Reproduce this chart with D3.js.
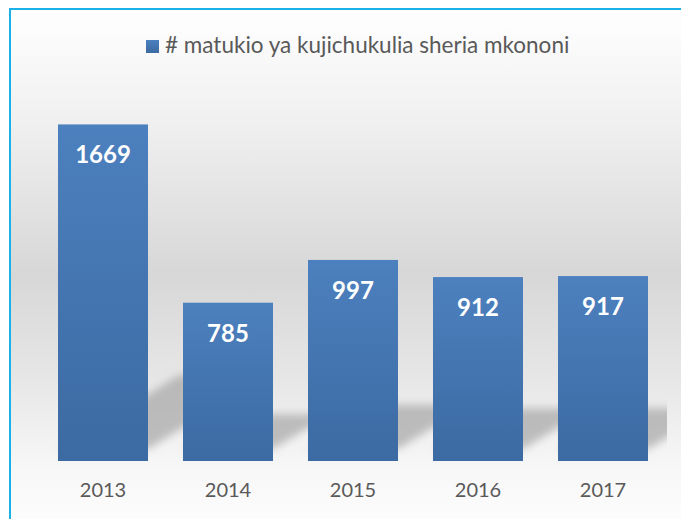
<!DOCTYPE html>
<html>
<head>
<meta charset="utf-8">
<script src="https://cdn.jsdelivr.net/npm/d3@7"></script>
<style>
  body { margin: 0; background: #fff; }
  svg { display: block; }
</style>
</head>
<body>
<script>
const years = ["2013", "2014", "2015", "2016", "2017"];
const counts = [1669, 785, 997, 912, 917];
const seriesName = "# matukio ya kujichukulia sheria mkononi";

const W = 681, H = 519;
const font = "Lato, 'Open Sans', sans-serif";

const svg = d3.select("body").append("svg")
    .attr("width", W)
    .attr("height", H);

const defs = svg.append("defs");

// chart background: white -> grey -> white
const bg = defs.append("linearGradient")
    .attr("id", "bg")
    .attr("gradientUnits", "userSpaceOnUse")
    .attr("x1", 0).attr("y1", 9).attr("x2", 0).attr("y2", 519);
[[0, "#ffffff"], [0.22, "#f0f0f0"], [0.52, "#d7d7d7"], [0.72, "#e6e6e6"], [0.9, "#f7f7f7"], [1, "#fcfcfc"]]
  .forEach(([o, c]) => bg.append("stop").attr("offset", o).attr("stop-color", c));

const barGrad = defs.append("linearGradient")
    .attr("id", "bar")
    .attr("x1", 0).attr("y1", 0).attr("x2", 0).attr("y2", 1);
barGrad.append("stop").attr("offset", 0).attr("stop-color", "#4c80be");
barGrad.append("stop").attr("offset", 1).attr("stop-color", "#3c6aa2");

defs.append("filter")
    .attr("id", "blur")
    .attr("x", -0.3).attr("y", -0.3).attr("width", 1.6).attr("height", 1.6)
  .append("feGaussianBlur")
    .attr("stdDeviation", 4);

const x = d3.scaleBand()
    .domain(years)
    .range([40.5, 665.5])
    .paddingInner(0.28)
    .paddingOuter(0.14);

const y = d3.scaleLinear()
    .domain([0, 1800])
    .range([461, 98]);

defs.append("clipPath").attr("id", "plotclip")
  .append("rect")
    .attr("x", 12).attr("y", 90)
    .attr("width", 667 - 12).attr("height", y(0) - 90);

svg.append("rect")
    .attr("x", 10).attr("y", 9)
    .attr("width", 700).attr("height", 540)
    .attr("fill", "url(#bg)")
    .attr("stroke", "#1cb0e8")
    .attr("stroke-width", 2);

const data = years.map((yr, i) => ({year: yr, value: counts[i]}));

// perspective shadows behind the bars
svg.append("g")
    .attr("clip-path", "url(#plotclip)")
  .append("g")
    .attr("filter", "url(#blur)")
  .selectAll("path")
  .data(data)
  .join("path")
    .attr("fill", "#a0a0a0")
    .attr("opacity", 0.65)
    .attr("d", d => {
      const x0 = x(d.year), x1 = x0 + x.bandwidth();
      const h = y(0) - y(d.value);
      const base = y(0) - 12, sh = 0.22 * h, dx = 0.36 * h;
      return `M${x0},${base}L${x1},${base}L${x1 + dx},${base - sh}L${x0 + dx},${base - sh}Z`;
    });

svg.append("g")
  .selectAll("rect")
  .data(data)
  .join("rect")
    .attr("x", d => x(d.year))
    .attr("y", d => y(d.value))
    .attr("width", x.bandwidth())
    .attr("height", d => y(0) - y(d.value))
    .attr("fill", "url(#bar)");

svg.append("g")
  .selectAll("text")
  .data(data)
  .join("text")
    .attr("x", d => x(d.year) + x.bandwidth() / 2)
    .attr("y", d => y(d.value) + 39)
    .attr("text-anchor", "middle")
    .attr("font-family", font)
    .attr("font-weight", "bold")
    .attr("font-size", 24)
    .attr("fill", "#ffffff")
    .text(d => d.value);

const xAxis = svg.append("g")
    .attr("transform", `translate(0,${y(0)})`)
    .call(d3.axisBottom(x).tickSize(0).tickPadding(22));
xAxis.select(".domain").remove();
xAxis.selectAll("text")
    .attr("font-family", font)
    .attr("font-size", 20)
    .attr("fill", "#595959");

const legend = svg.append("g").attr("transform", "translate(146,40)");
legend.append("rect")
    .attr("width", 13).attr("height", 13)
    .attr("fill", "url(#bar)");
legend.append("text")
    .attr("x", 19).attr("y", 13)
    .attr("font-family", font)
    .attr("font-size", 22.5)
    .attr("fill", "#595959")
    .text(seriesName);
</script>
</body>
</html>
